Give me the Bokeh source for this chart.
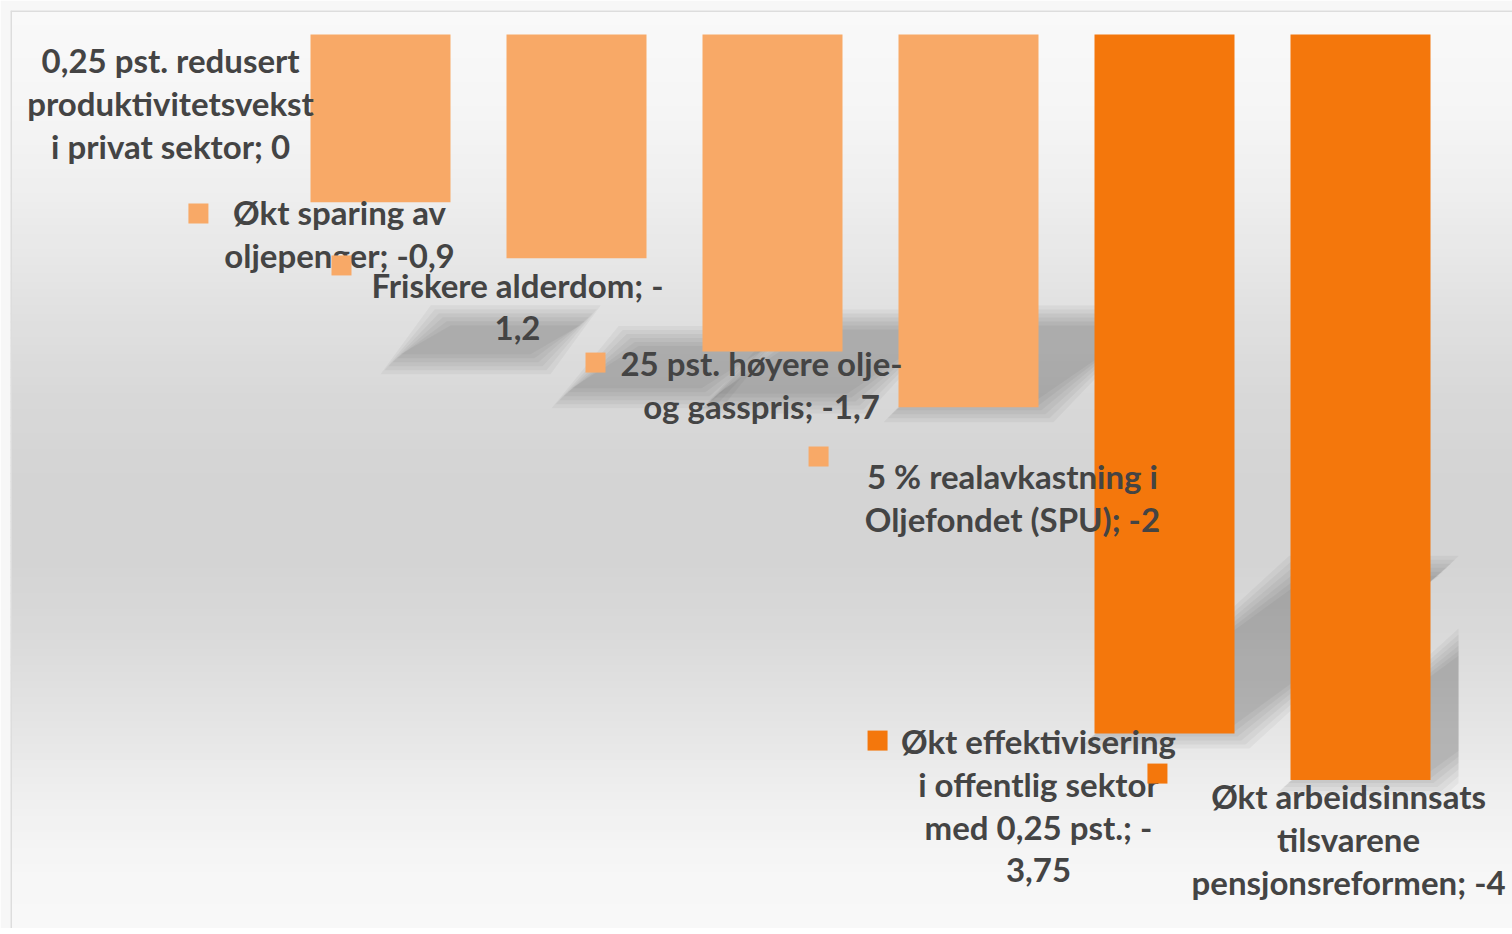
import re
import numpy as np
from bokeh.plotting import figure
from bokeh.models import Range1d, Span
from bokeh.core.properties import value
from bokeh.embed import file_html
from bokeh.resources import INLINE

# ---------------- data ----------------
CATEGORIES = [
    "0,25 pst. redusert produktivitetsvekst i privat sektor",
    "Økt sparing av oljepenger",
    "Friskere alderdom",
    "25 pst. høyere olje- og gasspris",
    "5 % realavkastning i Oljefondet (SPU)",
    "Økt effektivisering i offentlig sektor med 0,25 pst.",
    "Økt arbeidsinnsats tilsvarene pensjonsreformen",
]
VALUES = [0, -0.9, -1.2, -1.7, -2, -3.75, -4]

# ---------------- style / layout ----------------
LIGHT, DARK = "#F8A967", "#F4770C"
COLORS = [LIGHT, LIGHT, LIGHT, LIGHT, LIGHT, DARK, DARK]
TEXT_COLOR = "#444444"
FONT = "Lato"
FONT_SIZE = "33px"

W, H = 1512, 928
BORDER_L, BORDER_T = 10, 10
PX_PER_CAT = 196.0
PX_PER_UNIT = 186.4
CAT0_PX = 174.0      # frame px of category 0 centre
ZERO_PX = 24.0       # frame px (from top) of value 0
BAR_W = 140.0 / PX_PER_CAT

FW, FH = W - BORDER_L, H - BORDER_T
x0 = -CAT0_PX / PX_PER_CAT
x1 = x0 + FW / PX_PER_CAT
y1 = ZERO_PX / PX_PER_UNIT
y0 = y1 - FH / PX_PER_UNIT

# label layout (centre x offset from category, first line anchor, key position)
WRAP = [19, 16, 20, 20, 20, 19, 20]
LABEL_DX = [-0.071, -0.209, -0.301, -0.056, 0.224, -0.643, -0.061]
LABEL_Y0 = [-0.137, -0.950, -1.342, -1.760, -2.367, -3.788, -4.083]
LINE_STEP = 43.0 / PX_PER_UNIT
KEY_DX = [None, -0.929, -1.199, -0.903, -0.765, -1.464, -1.036]
KEY_Y = [None, -0.960, -1.239, -1.760, -2.264, -3.788, -3.965]

# background gradient stops (frame px from top, gray level)
GRAD_PX = [0, 90, 190, 290, 390, 470, 550, 630, 710, 790, 870, 918]
GRAD_V = [249, 246, 238, 226, 216, 212, 212, 218, 228, 240, 247, 248]

# perspective shadow parameters
SH_SCALE = 0.233     # shadow height / bar height
SH_SKEW = 0.3        # horizontal shift (px) per px of bar height
SH_OFFSET = [(0, 0), (85, 157), (60, 135), (10, 47), (0, 0), (0, 0), (0, 0)]  # px
SH_BLUR = (15, 11, 7, 3, -1, -5)  # px growth of each soft layer
PLOT_RIGHT = 6.5     # clip of plot area


def fmt(v):
    return f"{v:g}".replace(".", ",")


def wrap(s, width):
    pieces = []
    for word in s.split(" "):
        parts = re.findall(r"[^-]*-|[^-]+", word)
        for j, part in enumerate(parts):
            pieces.append((" " if j == 0 else "", part))
    lines, cur = [], ""
    for sep, part in pieces:
        cand = (cur + sep + part) if cur else part
        if len(cand) <= width:
            cur = cand
        else:
            lines.append(cur)
            cur = part
    lines.append(cur)
    return lines


p = figure(width=W, height=H, x_range=Range1d(x0, x1), y_range=Range1d(y0, y1),
           output_backend="svg", toolbar_location=None, tools="",
           x_axis_type=None, y_axis_type=None,
           min_border_left=BORDER_L, min_border_top=BORDER_T,
           min_border_right=0, min_border_bottom=0)
p.grid.visible = False
p.outline_line_color = None
p.border_fill_color = "#f7f7f7"
p.background_fill_color = "#f7f7f7"

# gradient background
nb = 115
edges = np.linspace(0, FH, nb + 1)
tops, bots, cols = [], [], []
for a, b in zip(edges[:-1], edges[1:]):
    g = int(round(np.interp((a + b) / 2, GRAD_PX, GRAD_V)))
    tops.append(y1 - (a - 0.6) / PX_PER_UNIT)
    bots.append(y1 - (b + 0.6) / PX_PER_UNIT)
    cols.append("#%02x%02x%02x" % (g, g, g))
p.quad(left=x0, right=x1, top=tops, bottom=bots, fill_color=cols, line_color=None)

# chart-area border (left / top)
p.add_layout(Span(location=x0, dimension="height", line_color="#dddddd", line_width=3))
p.add_layout(Span(location=y1, dimension="width", line_color="#dddddd", line_width=3))


# shadows
def clip_right(poly, xc):
    out = []
    n = len(poly)
    for k in range(n):
        (ax, ay), (bx, by) = poly[k], poly[(k + 1) % n]
        ain, bin_ = ax <= xc, bx <= xc
        if ain:
            out.append((ax, ay))
        if ain != bin_:
            t = (xc - ax) / (bx - ax)
            out.append((xc, ay + t * (by - ay)))
    return out


sx, sy = [], []
for i, v in enumerate(VALUES):
    h = -v
    if h <= 0:
        continue
    sh = SH_SCALE * h
    dx = SH_SKEW * h * PX_PER_UNIT / PX_PER_CAT
    ox = SH_OFFSET[i][0] / PX_PER_CAT
    oy = -SH_OFFSET[i][1] / PX_PER_UNIT
    for k in SH_BLUR:
        ex, ey = k / PX_PER_CAT, k / PX_PER_UNIT
        xl, xr = i - BAR_W / 2 - ex + ox, i + BAR_W / 2 + ex + ox
        yb, yt = v - ey + oy, v + sh + ey + oy
        poly = [(xl, yb), (xr, yb), (xr + dx, yt), (xl + dx, yt)]
        poly = clip_right(poly, PLOT_RIGHT)
        if poly:
            sx.append([q[0] for q in poly])
            sy.append([q[1] for q in poly])
p.patches(sx, sy, fill_color="black", fill_alpha=0.038, line_color=None)

# bars
p.vbar(x=list(range(len(VALUES))), top=0, bottom=VALUES, width=BAR_W,
       fill_color=COLORS, line_color=None)

# labels
tx, ty, tt = [], [], []
for i, (c, v) in enumerate(zip(CATEGORIES, VALUES)):
    lines = wrap(f"{c}; {fmt(v)}", WRAP[i])
    for j, ln in enumerate(lines):
        tx.append(i + LABEL_DX[i])
        ty.append(LABEL_Y0[i] - j * LINE_STEP)
        tt.append(ln)
p.text(x=tx, y=ty, text=tt, text_align="center", text_baseline="alphabetic",
       text_font=value(FONT), text_font_style="bold", text_font_size=FONT_SIZE,
       text_color=TEXT_COLOR)

kx, ky, kc = [], [], []
for i in range(len(VALUES)):
    if KEY_DX[i] is None:
        continue
    kx.append(i + KEY_DX[i])
    ky.append(KEY_Y[i])
    kc.append(COLORS[i])
p.scatter(x=kx, y=ky, marker="square", size=20, fill_color=kc, line_color=None)

open("out.html", "w").write(file_html(p, INLINE))
